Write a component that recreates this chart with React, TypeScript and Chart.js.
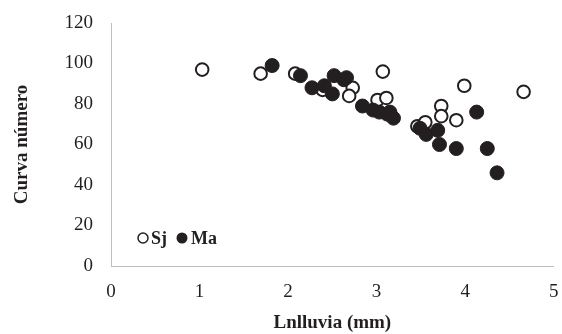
import React, { useEffect, useRef } from "react";
import { Chart, registerables } from "chart.js";

Chart.register(...registerables);

const sjX = [1.03, 1.69, 2.08, 2.39, 2.73, 2.69, 3.07, 3.01, 3.11, 3.46, 3.55, 3.73, 3.73, 3.9, 3.99, 4.66];
const sjY = [97, 95, 95, 87, 88, 84, 96, 82, 83, 69, 71, 79, 74, 72, 89, 86];

const maX = [1.82, 2.14, 2.27, 2.41, 2.52, 2.63, 2.66, 2.5, 2.84, 2.96, 3.03, 3.12, 3.19, 3.15, 3.49, 3.56, 3.69, 3.71, 3.9, 4.13, 4.25, 4.36];
const maY = [99, 94, 88, 89, 94, 92, 93, 85, 79, 77, 76, 75, 73, 76, 68, 65, 67, 60, 58, 76, 58, 46];

const seriesNames = ["Sj", "Ma"];
const xTitle = "Lnlluvia (mm)";
const yTitle = "Curva número";

const INK = "#231f20";
const AXIS = "#bfbfbf";
const FONT = "'Liberation Serif', 'Times New Roman', serif";

const legendPlugin = {
  id: "insideLegend",
  afterDraw(chart: any) {
    const { ctx, chartArea } = chart;
    const cy = chartArea.bottom - 28;
    let x = chartArea.left + 27;
    ctx.save();
    ctx.font = `bold 18px ${FONT}`;
    ctx.textBaseline = "middle";
    ctx.fillStyle = INK;
    const r = 5;
    ctx.beginPath();
    ctx.arc(x + r, cy, r, 0, Math.PI * 2);
    ctx.fillStyle = "#ffffff";
    ctx.fill();
    ctx.lineWidth = 1.5;
    ctx.strokeStyle = INK;
    ctx.stroke();
    ctx.fillStyle = INK;
    ctx.fillText(seriesNames[0], x + 2 * r + 3, cy + 1);
    x += 2 * r + 3 + ctx.measureText(seriesNames[0]).width + 10;
    ctx.beginPath();
    ctx.arc(x + r, cy, r + 0.5, 0, Math.PI * 2);
    ctx.fill();
    ctx.fillText(seriesNames[1], x + 2 * r + 4, cy + 1);
    ctx.restore();
  },
};

export default function App() {
  const ref = useRef<HTMLCanvasElement>(null);
  useEffect(() => {
    if (!ref.current) return;
    const chart = new Chart(ref.current, {
      type: "scatter",
      data: {
        datasets: [
          {
            label: seriesNames[0],
            data: sjX.map((x, i) => ({ x, y: sjY[i] })),
            backgroundColor: "#ffffff",
            borderColor: INK,
            borderWidth: 2,
            pointRadius: 6.3,
            order: 1,
          },
          {
            label: seriesNames[1],
            data: maX.map((x, i) => ({ x, y: maY[i] })),
            backgroundColor: INK,
            borderColor: INK,
            borderWidth: 1,
            pointRadius: 7,
            order: 0,
          },
        ],
      },
      options: {
        animation: false,
        responsive: false,
        maintainAspectRatio: false,
        layout: { padding: { top: 23, right: 8, left: 0, bottom: 0 } },
        plugins: {
          legend: { display: false },
          tooltip: { enabled: false },
        },
        scales: {
          x: {
            type: "linear",
            min: 0,
            max: 5,
            ticks: { stepSize: 1, color: INK, padding: 15, font: { family: FONT, size: 19 } },
            grid: { display: false, drawTicks: false },
            border: { display: true, color: AXIS, width: 1 },
            title: {
              display: true,
              text: xTitle,
              color: INK,
              font: { family: FONT, size: 19, weight: "bold" },
              padding: { top: 7, bottom: 0 },
            },
            afterFit(scale: any) {
              scale.height = 68;
              scale.paddingLeft = 0;
              scale.paddingRight = 0;
            },
          },
          y: {
            type: "linear",
            min: 0,
            max: 120,
            ticks: { stepSize: 20, color: INK, padding: 18, font: { family: FONT, size: 19 } },
            grid: { display: false, drawTicks: false },
            border: { display: true, color: AXIS, width: 1 },
            title: {
              display: true,
              text: yTitle,
              color: INK,
              font: { family: FONT, size: 19, weight: "bold" },
              padding: { top: 11, bottom: 0 },
            },
            afterFit(scale: any) {
              scale.width = 111;
              scale.paddingTop = 0;
              scale.paddingBottom = 0;
            },
          },
        },
      },
      plugins: [legendPlugin],
    });
    return () => chart.destroy();
  }, []);
  return (
    <div style={{ position: "fixed", left: 0, top: 0, width: 562, height: 334, background: "#fff" }}>
      <canvas ref={ref} width={562} height={334} style={{ width: 562, height: 334 }} />
    </div>
  );
}
